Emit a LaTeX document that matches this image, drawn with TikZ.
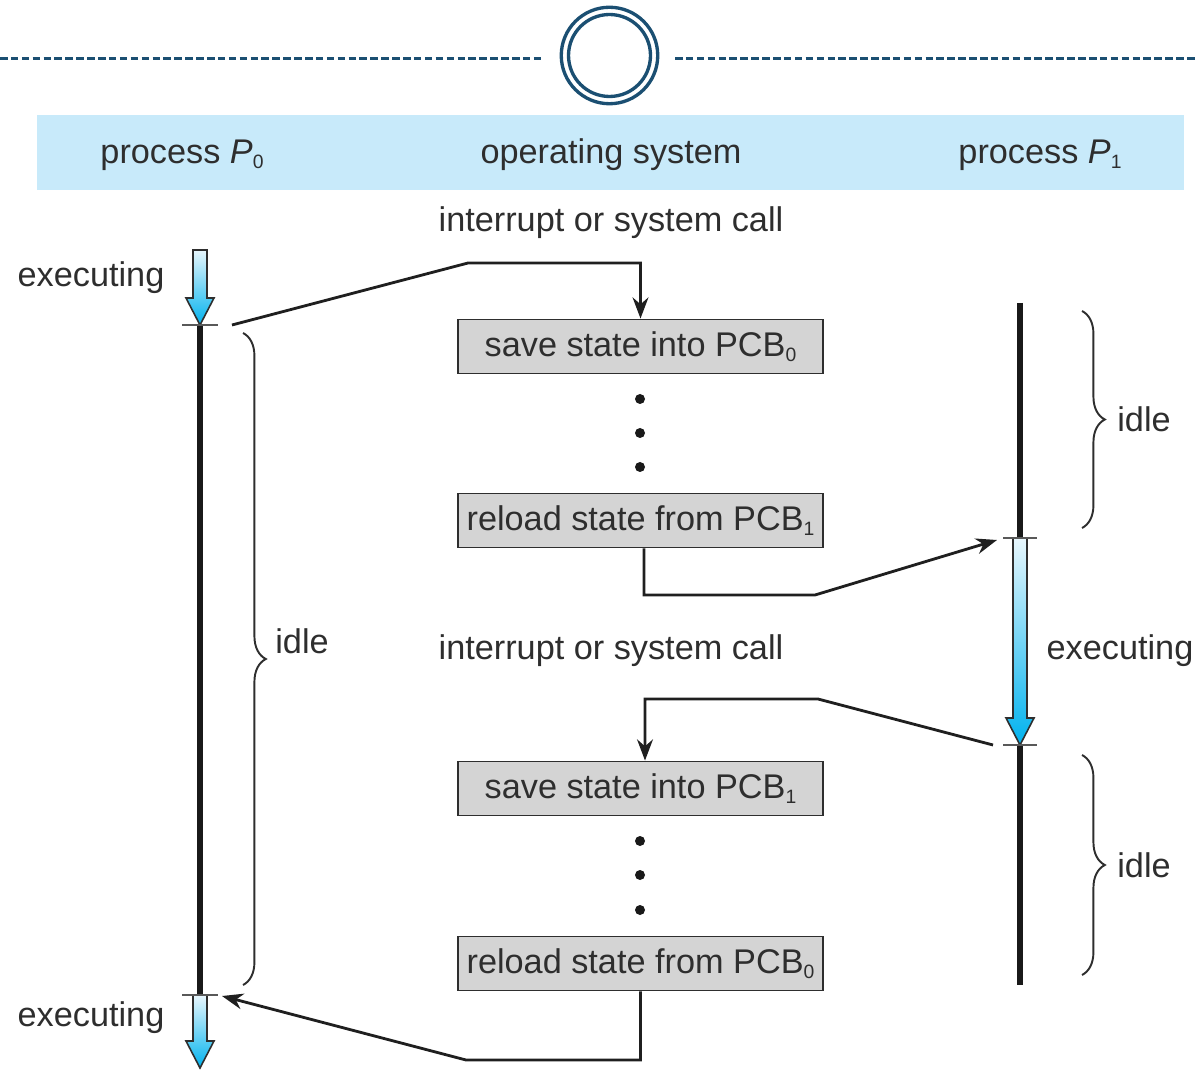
\documentclass[tikz,border=0pt]{standalone}
\usepackage{fontspec}
\setmainfont{Liberation Sans}
\usetikzlibrary{arrows.meta,decorations.pathreplacing,calc}

\definecolor{navy}{HTML}{1B4F72}
\definecolor{headbg}{HTML}{C8EAFA}
\definecolor{boxgray}{HTML}{D4D4D4}
\definecolor{ink}{HTML}{2E2E2E}
\definecolor{runtop}{HTML}{E8F7FD}
\definecolor{runbot}{HTML}{00B2EE}

% small lowered index, as in PCB_0
\newcommand\idx[1]{\raisebox{-0.3ex}{\fontsize{11}{11}\selectfont #1}}

% fat downward "executing" arrow: x, top y, tip y
\newcommand\runarrow[3]{%
  \draw[line width=0.9pt, draw=ink, top color=runtop, bottom color=runbot]
    (#1-7,#2) -- (#1+7,#2) -- (#1+7,#3-27) -- (#1+14,#3-27) -- (#1,#3)
    -- (#1-14,#3-27) -- (#1-7,#3-27) -- cycle;}

\begin{document}
\begin{tikzpicture}[x=0.02cm,y=-0.02cm,
  lbl/.style={font=\fontsize{19.5}{23}\selectfont, text=ink, inner sep=0pt},
  txt/.style={lbl, yshift=-0.06cm},
  statebox/.style={lbl, draw=ink, fill=boxgray, line width=1.1pt,
    minimum width=7.3cm, minimum height=1.08cm},
  link/.style={line width=1.6pt, draw=black!88, line join=miter},
  tip/.style={-{Stealth[length=12pt,width=9pt]}},
  timeline/.style={line width=3.4pt, draw=black!90},
  tick/.style={line width=1.1pt, draw=gray!70!black},
  bracket/.style={decorate, decoration={brace, amplitude=13pt},
    line width=1.1pt, draw=ink},
  dot/.style={circle, fill=black!90, inner sep=0pt, minimum size=0.2cm},
]
\useasboundingbox (0,0) rectangle (1196,1070);

% title ornament
\draw[navy, line width=1.7pt, dash pattern=on 4.3pt off 1.9pt] (0,59) -- (543,59);
\draw[navy, line width=1.7pt, dash pattern=on 4.3pt off 1.9pt] (675,59) -- (1196,59);
\draw[navy, line width=1.9pt] (609.5,55.5) circle[radius=0.965cm];
\draw[navy, line width=1.9pt] (609.5,55.5) circle[radius=0.82cm];

% column headings
\fill[headbg] (37,115) rectangle (1184,190);
\node[txt] (hp0) at (182,152) {process \textit{P}\idx{0}};
\node[txt] (hos) at (611,152) {operating system};
\node[txt] (hp1) at (1040,152) {process \textit{P}\idx{1}};

% operating system steps
\node[txt] (call1) at (611,220) {interrupt or system call};
\node[statebox] (save0) at (640.5,346.5) {save state into PCB\idx{0}};
\node[dot] (d1) at (640,399) {};
\node[dot] (d2) at (640,433) {};
\node[dot] (d3) at (640,467) {};
\node[statebox] (reload1) at (640.5,520.5) {reload state from PCB\idx{1}};
\node[txt] (call2) at (611,648) {interrupt or system call};
\node[statebox] (save1) at (640.5,788.5) {save state into PCB\idx{1}};
\node[dot] (d4) at (640,841) {};
\node[dot] (d5) at (640,875) {};
\node[dot] (d6) at (640,910) {};
\node[statebox] (reload0) at (640.5,963.5) {reload state from PCB\idx{0}};

% process P0 timeline
\coordinate (p0a) at (200,325);
\coordinate (p0b) at (200,995);
\runarrow{200}{250}{325}
\draw[timeline] (p0a) -- (p0b);
\runarrow{200}{995}{1068}
\draw[tick] (182,325) -- (218,325);
\draw[tick] (182,995) -- (218,995);
\node[txt] (ex0a) at (91,275) {executing};
\node[txt] (ex0b) at (91,1015) {executing};
\draw[bracket] (243,333) -- (243,985);
\node[txt, anchor=west] (idle0) at (275,638) {idle};

% process P1 timeline
\coordinate (p1a) at (1020,303);
\coordinate (p1b) at (1020,538);
\coordinate (p1c) at (1020,745);
\coordinate (p1d) at (1020,985);
\draw[timeline] (p1a) -- (p1b);
\runarrow{1020}{538}{745}
\draw[timeline] (p1c) -- (p1d);
\draw[tick] (1003,538) -- (1037,538);
\draw[tick] (1003,745) -- (1037,745);
\node[txt] (ex1) at (1120,648) {executing};
\draw[bracket] (1082,311) -- (1082,528);
\node[txt, anchor=west] (idle1) at (1117,416) {idle};
\draw[bracket] (1082,755) -- (1082,975);
\node[txt, anchor=west] (idle2) at (1117,862) {idle};

% control transfers
\coordinate (out0) at (232,325);
\coordinate (k1) at (468,263);
\draw[link, tip] (out0) -- (k1) -| (save0.north);

\coordinate (k2) at (815,595);
\coordinate (in1) at (997,540);
\draw[link, tip] ([xshift=0.07cm]reload1.south) |- (k2) -- (in1);

\coordinate (out1) at (993,745);
\coordinate (k3) at (818,699);
\draw[link, tip] (out1) -- (k3) -| ([xshift=0.09cm]save1.north);

\coordinate (k4) at (466,1060);
\coordinate (in0) at (222,996);
\draw[link, tip] (reload0.south) |- (k4) -- (in0);
\end{tikzpicture}
\end{document}
